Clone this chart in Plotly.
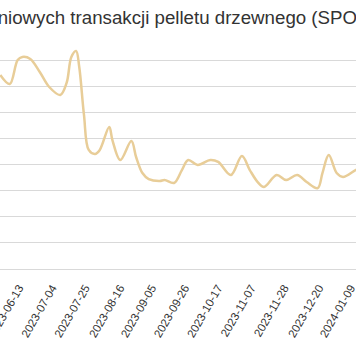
import plotly.graph_objects as go

title_text = "Średnie ceny dniowych transakcji pelletu drzewnego (SPOT)"

dates = [
    "2023-05-29", "2023-06-04", "2023-06-09", "2023-06-12", "2023-06-17",
    "2023-06-23", "2023-06-29", "2023-07-06", "2023-07-10", "2023-07-13",
    "2023-07-16", "2023-07-18", "2023-07-21", "2023-07-24", "2023-07-28",
    "2023-07-31", "2023-08-06", "2023-08-08", "2023-08-13", "2023-08-20",
    "2023-08-23", "2023-08-27", "2023-08-31", "2023-09-07", "2023-09-10",
    "2023-09-16", "2023-09-21", "2023-09-25", "2023-10-01", "2023-10-09",
    "2023-10-14", "2023-10-22", "2023-10-29", "2023-11-03", "2023-11-08",
    "2023-11-12", "2023-11-20", "2023-11-26", "2023-12-03", "2023-12-09",
    "2023-12-16", "2023-12-19", "2023-12-23", "2023-12-28", "2024-01-01",
    "2024-01-09", "2024-01-13",
]
prices = [
    1486, 1417, 1601, 1624, 1609,
    1509, 1394, 1333, 1425, 1624,
    1670, 1547, 1180, 912, 881,
    912, 1088, 988, 835, 980,
    858, 735, 689, 674, 682,
    659, 758, 835, 797, 835,
    820, 720, 866, 758, 666,
    628, 720, 682, 720, 666,
    620, 735, 873, 735, 705,
    758, 780,
]

tick_dates = [
    "2023-06-13", "2023-07-04", "2023-07-25", "2023-08-16", "2023-09-05",
    "2023-09-26", "2023-10-17", "2023-11-07", "2023-11-28", "2023-12-20",
    "2024-01-09",
]

fig = go.Figure()
fig.add_trace(go.Scatter(
    x=dates, y=prices, mode="lines",
    line=dict(color="#e8cd98", width=2.5, shape="spline", smoothing=1.0),
    hoverinfo="skip", showlegend=False,
))

fig.update_layout(
    width=356, height=345,
    margin=dict(l=0, r=0, t=34, b=76, autoexpand=False),
    paper_bgcolor="white", plot_bgcolor="white",
    font=dict(family="Liberation Sans, Arial, sans-serif", color="#333333"),
    xaxis=dict(
        type="date", automargin=False,
        range=["2023-05-28 19:40", "2024-01-09 06:00"],
        tickvals=tick_dates, ticktext=tick_dates,
        tickangle=-60, tickfont=dict(size=11.5, color="#333333"),
        ticklabeloverflow="allow", ticklabelstandoff=9, ticklabelshift=-5,
        showgrid=False, showline=False, zeroline=False, ticks="",
    ),
    yaxis=dict(
        range=[0, 1800], dtick=200, automargin=False,
        showgrid=True, gridcolor="#d9d9d9", gridwidth=1,
        zeroline=True, zerolinecolor="#d9d9d9", zerolinewidth=1,
        showticklabels=False, showline=False, ticks="",
    ),
    annotations=[dict(
        text=title_text, xref="paper", yref="paper",
        x=-0.363, y=1.0723, xanchor="left", yanchor="middle",
        showarrow=False, font=dict(size=18.7, color="#333333"),
    )],
)

fig.write_html("out.html")
